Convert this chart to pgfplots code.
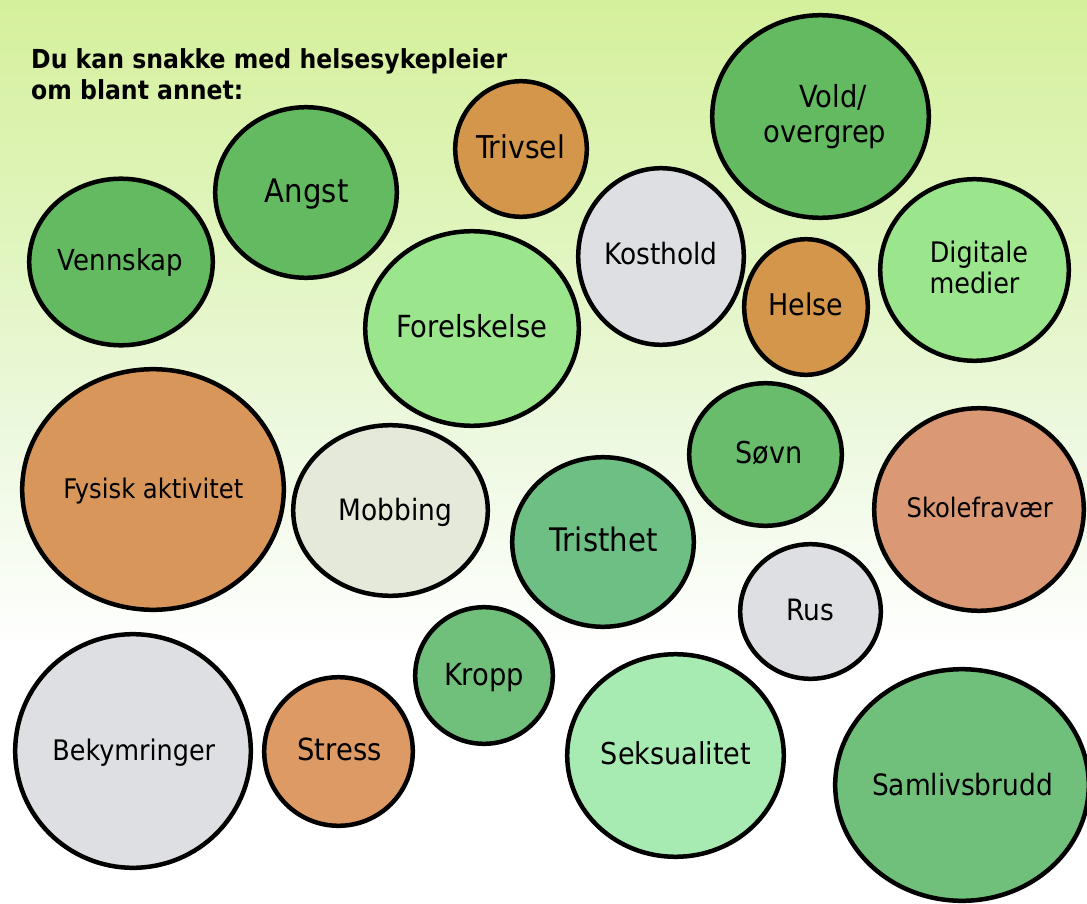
\documentclass[border=0pt]{standalone}
\usepackage{pgfplots}
\pgfplotsset{compat=1.18}
\usepackage{pgfplotstable}
\usepackage{fontspec}
\setmainfont{DejaVu Sans Condensed}
\definecolor{cGa}{RGB}{99,186,97}
\definecolor{cGb}{RGB}{104,188,108}
\definecolor{cGc}{RGB}{112,191,122}
\definecolor{cGd}{RGB}{110,191,132}
\definecolor{cLa}{RGB}{155,230,141}
\definecolor{cLb}{RGB}{168,235,178}
\definecolor{cOa}{RGB}{212,150,74}
\definecolor{cOb}{RGB}{216,150,90}
\definecolor{cOc}{RGB}{221,154,100}
\definecolor{cS}{RGB}{218,152,116}
\definecolor{cGr}{RGB}{222,223,227}
\definecolor{cM}{RGB}{228,233,218}
\definecolor{bgtop}{RGB}{213,240,156}
\definecolor{bgup}{RGB}{225,245,192}
\definecolor{bgmid}{RGB}{238,249,226}
\pgfdeclareverticalshading{bgshade}{100bp}{color(0bp)=(white); color(39bp)=(white); color(50bp)=(bgmid); color(61bp)=(bgup); color(75bp)=(bgtop); color(100bp)=(bgtop)}
\pgfdeclareplotmark{ell}{\pgfpathellipse{\pgfpointorigin}{\pgfqpoint{\erx pt}{0pt}}{\pgfqpoint{0pt}{\ery pt}}\pgfusepathqfillstroke}

\pgfplotstableread[col sep=comma]{
x,y,rx,ry,col
121,262,91.8,83.3,Ga
306,192.5,90.8,85.3,Ga
521,149,65.8,67.8,Oa
661,256.5,82.8,88.3,Gr
472,328.5,106.8,97.3,La
820.5,116.5,108.3,101.3,Ga
974.5,270,94.3,90.8,La
806,307,61.8,67.8,Oa
765.5,454.5,76.3,71.3,Gb
979,509.5,104.8,101.3,S
810.5,611.5,70.3,67.3,Gr
962,785,126.8,115.8,Gc
675.5,755.5,108.3,101.3,Lb
603,542,90.8,84.8,Gd
484,675.5,68.8,68.3,Gc
390.5,510.5,97.3,85.3,M
153,489.5,130.8,120.3,Ob
133,751,117.8,116.8,Gr
338.5,751.5,74.3,74.3,Oc
}\circles

\pgfplotstableread[col sep=comma]{
x,y,fs,txt
120.5,260,28.9,Vennskap
306.7,190.8,32.4,Angst
520.7,146.7,31.4,Trivsel
661,254.2,29.4,Kosthold
471.7,326.2,30.4,Forelskelse
833,96.5,30.4,Vold/
825,131.3,30.4,overgrep
979,251.7,28.3,Digitale
974.5,283.3,28.3,medier
806,304.2,29.9,Helse
153.3,488.2,27,Fysisk aktivitet
395.5,510,29.4,Mobbing
603.7,539.7,32.4,Tristhet
484,674,30.4,Kropp
676,754,30.1,Seksualitet
769,453,30.1,Søvn
979.8,507.8,26.9,Skolefravær
810.5,609.5,29.4,Rus
962.5,785,29.4,Samlivsbrudd
133.8,749.8,28.3,Bekymringer
339.5,749.8,30.4,Stress
}\labels

\begin{document}
\begin{tikzpicture}
\begin{axis}[
  width=1087pt, height=904pt, scale only axis,
  xmin=0, xmax=1087, ymin=0, ymax=904, y dir=reverse,
  axis line style={draw=none}, xtick=\empty, ytick=\empty,
  axis background/.style={shading=bgshade},
  clip marker paths=true,
]
\addplot[scatter, only marks, mark=ell, line width=4.5pt,
  scatter src=explicit symbolic,
  scatter/classes={
    Ga={fill=cGa,draw=black}, Gb={fill=cGb,draw=black}, Gc={fill=cGc,draw=black},
    Gd={fill=cGd,draw=black}, La={fill=cLa,draw=black}, Lb={fill=cLb,draw=black},
    Oa={fill=cOa,draw=black}, Ob={fill=cOb,draw=black}, Oc={fill=cOc,draw=black},
    S={fill=cS,draw=black}, Gr={fill=cGr,draw=black}, M={fill=cM,draw=black}},
  visualization depends on={\thisrow{rx}\as\erx},
  visualization depends on={\thisrow{ry}\as\ery},
] table[x=x,y=y,meta=col] {\circles};

\addplot[draw=none, mark=none, point meta=explicit symbolic,
  visualization depends on={\thisrow{fs}\as\lfs},
  visualization depends on={0.73*\thisrow{fs}\as\ltht},
  nodes near coords,
  every node near coord/.append style={anchor=center, inner sep=0pt, text=black,
    font=\fontsize{\lfs}{\lfs}\selectfont, text height=\ltht pt, text depth=0pt},
] table[x=x,y=y,meta=txt] {\labels};

\node[anchor=base west, inner sep=0pt, font=\bfseries\fontsize{26.2}{26.2}\selectfont] at (axis cs:31,69) {Du kan snakke med helsesykepleier};
\node[anchor=base west, inner sep=0pt, font=\bfseries\fontsize{26.2}{26.2}\selectfont] at (axis cs:31,100) {om blant annet:};
\end{axis}
\end{tikzpicture}
\end{document}
